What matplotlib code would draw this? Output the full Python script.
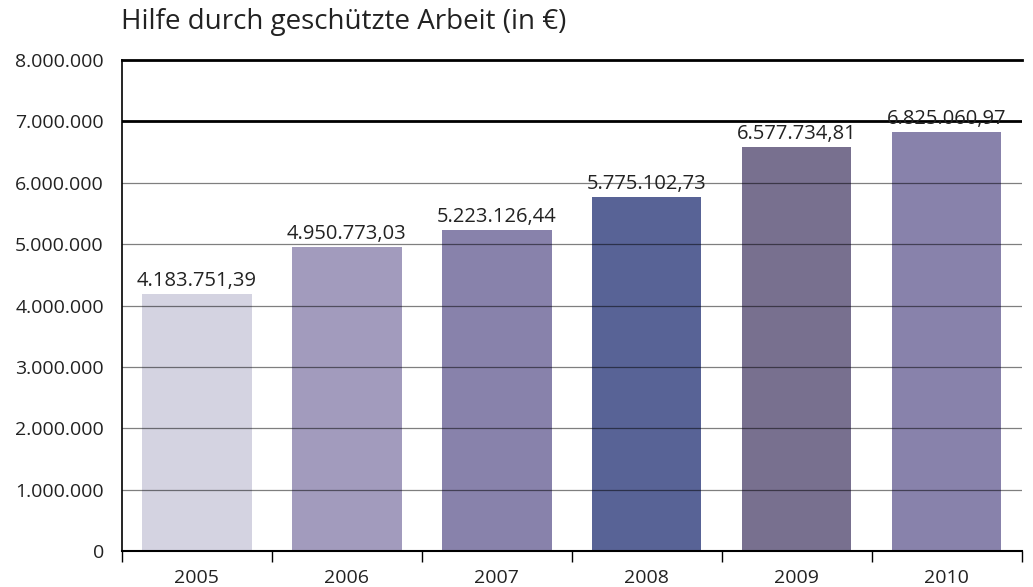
import matplotlib.pyplot as plt
from matplotlib.ticker import FixedLocator, FuncFormatter

years = ["2005", "2006", "2007", "2008", "2009", "2010"]
values = [4183751.39, 4950773.03, 5223126.44, 5775102.73, 6577734.81, 6825060.97]
colors = ["#d4d3e1", "#a29bbd", "#8882ab", "#586396", "#78708f", "#8882ab"]
title = "Hilfe durch geschützte Arbeit (in €)"


def de_num(v, decimals=0):
    s = f"{v:,.{decimals}f}"
    return s.replace(",", "X").replace(".", ",").replace("X", ".")


plt.rcParams["font.family"] = ["Open Sans", "DejaVu Sans"]

fig = plt.figure(figsize=(10.33, 5.87), dpi=100)
ax = fig.add_axes([0.118, 0.0613, 0.871, 0.8365])

x = list(range(len(years)))
ax.bar(x, values, width=0.73, color=colors, zorder=1)

# gridlines sit over the bars, semi-transparent like the original
for yv in range(1, 7):
    ax.axhline(yv * 1e6, color="black", alpha=0.5, linewidth=0.9, zorder=2)
ax.axhline(7e6, color="black", linewidth=2, zorder=2)
ax.axhline(8e6, color="black", linewidth=2, zorder=2, clip_on=False)

for xi, v in zip(x, values):
    ax.text(xi, v + 0.13e6, de_num(v, 2), ha="center", va="baseline",
            fontsize=14.5, color="#222222", zorder=3)

ax.set_xlim(-0.5, len(years) - 0.5)
ax.set_ylim(0, 8e6)
ax.set_yticks([i * 1e6 for i in range(9)])
ax.yaxis.set_major_formatter(FuncFormatter(lambda v, p: de_num(v)))
ax.tick_params(axis="y", length=0, pad=13, labelsize=14, colors="#222222")

ax.set_xticks(x)
ax.set_xticklabels(years)
ax.xaxis.set_minor_locator(FixedLocator([i - 0.5 for i in range(len(years) + 1)]))
ax.tick_params(axis="x", which="major", length=0, pad=13, labelsize=14, colors="#222222")
ax.tick_params(axis="x", which="minor", length=8, width=1, color="black")

for s in ["top", "right"]:
    ax.spines[s].set_visible(False)
ax.spines["left"].set_linewidth(1.2)
ax.spines["bottom"].set_linewidth(1.5)
ax.spines["bottom"].set_zorder(4)

fig.text(0.117, 0.9506, title, fontsize=20, color="#222222", ha="left", va="baseline")

plt.savefig("out.png", dpi=100)
plt.close()
